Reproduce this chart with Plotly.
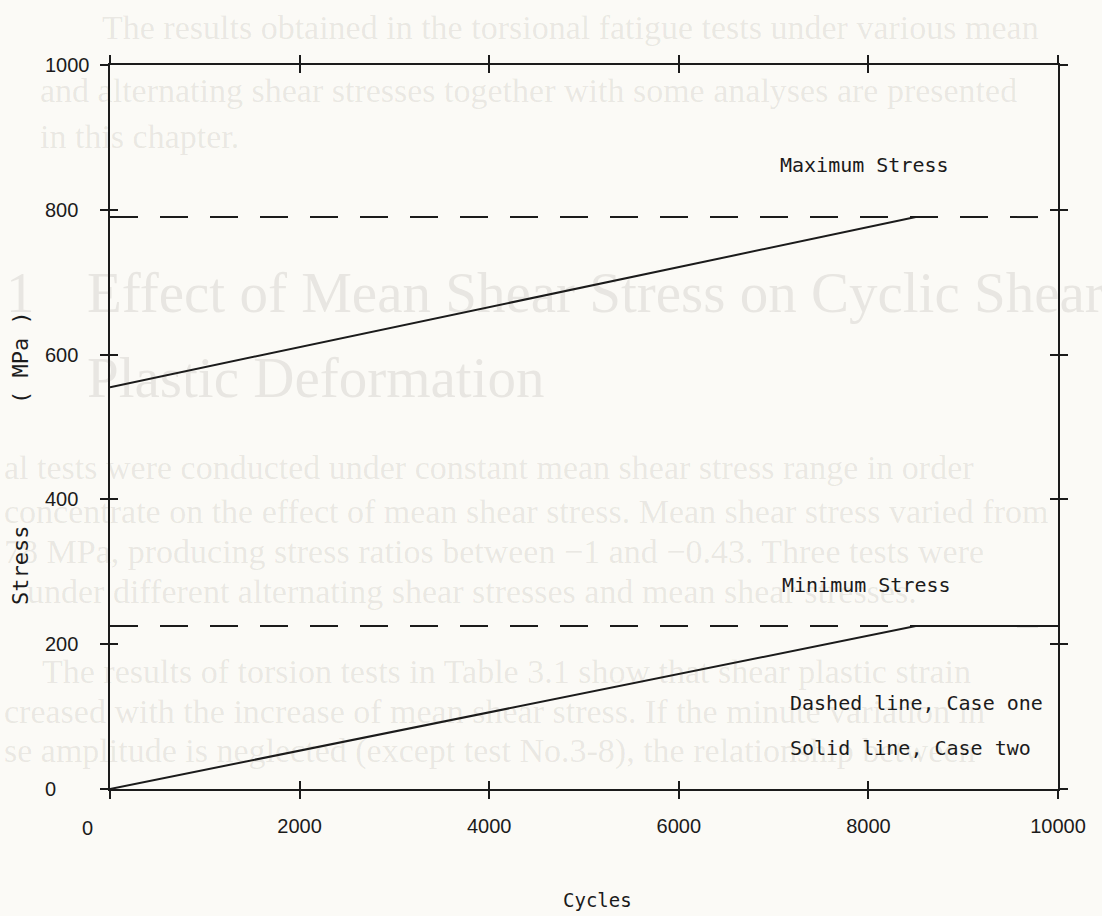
import plotly.graph_objects as go

# ---------------- data ----------------
X_TICKS = [0, 2000, 4000, 6000, 8000, 10000]
X_TICK_LABELS = ["0", "2000", "4000", "6000", "8000", "10000"]
Y_TICKS = [0, 200, 400, 600, 800, 1000]
Y_TICK_LABELS = ["0", "200", "400", "600", "800", "1000"]

# Case one (dashed): constant maximum / minimum stress
case1_cycles = [0, 10000]
case1_max = [790, 790]
case1_min = [225, 225]

# Case two (solid): ramped maximum / minimum stress
case2_max_cycles = [0, 8500]
case2_max = [555, 790]
case2_min_cycles = [0, 8500, 10000]
case2_min = [0, 225, 225]

# ---------------- layout geometry ----------------
W, H = 1102, 916
ML, MR, MT, MB = 110, 44, 65, 127
PW, PH = W - ML - MR, H - MT - MB


def px(xp):
    return (xp - ML) / PW


def py(yp):
    return (H - MB - yp) / PH


INK = "#1b1b1b"
BG = "#fbfaf6"
MONO = "DejaVu Sans Mono"
SANS = "Liberation Sans"

fig = go.Figure()

line_style = dict(color=INK, width=2)
fig.add_trace(go.Scatter(x=case1_cycles, y=case1_max, mode="lines",
                         line=dict(color=INK, width=2, dash="28px,22px"),
                         showlegend=False, hoverinfo="skip"))
fig.add_trace(go.Scatter(x=case1_cycles, y=case1_min, mode="lines",
                         line=dict(color=INK, width=2, dash="28px,22px"),
                         showlegend=False, hoverinfo="skip"))
fig.add_trace(go.Scatter(x=case2_max_cycles, y=case2_max, mode="lines",
                         line=line_style, showlegend=False, hoverinfo="skip"))
fig.add_trace(go.Scatter(x=case2_min_cycles, y=case2_min, mode="lines",
                         line=line_style, showlegend=False, hoverinfo="skip"))
# empty trace to activate the overlay axes (inside tick marks)
fig.add_trace(go.Scatter(x=[None], y=[None], xaxis="x2", yaxis="y2",
                         mode="lines", showlegend=False, hoverinfo="skip"))

axis_common = dict(showgrid=False, zeroline=False, ticklen=8, tickwidth=1.5,
                   tickcolor=INK)

fig.update_layout(
    width=W, height=H,
    margin=dict(l=ML, r=MR, t=MT, b=MB),
    paper_bgcolor=BG, plot_bgcolor=BG,
    xaxis=dict(range=[0, 10000], tickvals=X_TICKS,
               ticktext=[""] + X_TICK_LABELS[1:],
               ticks="outside", mirror="ticks", showline=True,
               linecolor=INK, linewidth=1.5,
               tickfont=dict(family=SANS, size=20, color=INK),
               ticklabelstandoff=10, **axis_common),
    yaxis=dict(range=[0, 1000], tickvals=Y_TICKS, showticklabels=False,
               ticks="outside", mirror="ticks", showline=True,
               linecolor=INK, linewidth=1.5, **axis_common),
    xaxis2=dict(range=[0, 10000], tickvals=X_TICKS, overlaying="x",
                anchor="y", showticklabels=False, ticks="inside",
                mirror="ticks", showline=False, **axis_common),
    yaxis2=dict(range=[0, 1000], tickvals=Y_TICKS, overlaying="y",
                anchor="x", showticklabels=False, ticks="inside",
                mirror="ticks", showline=False, **axis_common),
)

ann = []
# faint show-through text of the printed page
FAINT = "rgba(70,60,45,0.10)"
SERIF = "Liberation Serif"
bg_lines = [
    ("The results obtained in the torsional fatigue tests under various mean", 100, 27, 34),
    ("and alternating shear stresses together with some analyses are presented", 38, 90, 34),
    ("in this chapter.", 38, 137, 34),
    ("1", 4, 292, 57),
    ("Effect of Mean Shear Stress on Cyclic Shear", 85, 292, 57),
    ("Plastic Deformation", 85, 377, 57),
    ("al tests were conducted under constant mean shear stress range in order", 2, 468, 34),
    ("concentrate on the effect of mean shear stress. Mean shear stress varied from", 2, 511, 34),
    ("78 MPa, producing stress ratios between \u22121 and \u22120.43. Three tests were", 2, 551, 34),
    ("under different alternating shear stresses and mean shear stresses.", 25, 591, 34),
    ("The results of torsion tests in Table 3.1 show that shear plastic strain", 40, 671, 34),
    ("creased with the increase of mean shear stress. If the minute variation in", 2, 711, 34),
    ("se amplitude is neglected (except test No.3-8), the relationship between", 2, 751, 34),
]
for text, x0, y0, sz in bg_lines:
    ann.append(dict(text=text, xref="paper", yref="paper", x=px(x0), y=py(y0),
                    xanchor="left", yanchor="middle", showarrow=False,
                    font=dict(family=SERIF, size=sz, color=FAINT)))

# y tick labels (left aligned, as in the original plotter output)
for v, lab in zip(Y_TICKS, Y_TICK_LABELS):
    ann.append(dict(text=lab, x=0, y=v, xref="x", yref="y", xanchor="left",
                    yanchor="middle", xshift=-67, showarrow=False,
                    font=dict(family=SANS, size=20, color=INK)))
# x "0" label, offset left
ann.append(dict(text=X_TICK_LABELS[0], x=X_TICKS[0], y=0, xref="x", yref="y",
                xanchor="center", yanchor="middle", xshift=-23, yshift=-39,
                showarrow=False, font=dict(family=SANS, size=20, color=INK)))

# axis titles
ann.append(dict(text="Cycles", xref="paper", yref="paper", x=px(597), y=py(900),
                xanchor="center", yanchor="middle", showarrow=False,
                font=dict(family=MONO, size=19, color=INK)))
ann.append(dict(text="Stress", xref="paper", yref="paper", x=px(20), y=py(566),
                xanchor="center", yanchor="middle", textangle=-90, showarrow=False,
                font=dict(family=MONO, size=22, color=INK)))
ann.append(dict(text="( MPa )", xref="paper", yref="paper", x=px(20), y=py(358),
                xanchor="center", yanchor="middle", textangle=-90, showarrow=False,
                font=dict(family=MONO, size=22, color=INK)))

# in-plot labels
notes = [("Maximum Stress", 7050, 862), ("Minimum Stress", 7070, 282),
         ("Dashed line, Case one", 7150, 119), ("Solid line, Case two", 7150, 57)]
for text, xv, yv in notes:
    ann.append(dict(text=text, x=xv, y=yv, xref="x", yref="y", xanchor="left",
                    yanchor="middle", showarrow=False,
                    font=dict(family=MONO, size=20, color=INK)))

fig.update_layout(annotations=ann)
fig.write_html("out.html",
               config={"displayModeBar": False},
               post_script="document.body.style.margin='0px';"
                           "document.body.style.background='" + BG + "';")
